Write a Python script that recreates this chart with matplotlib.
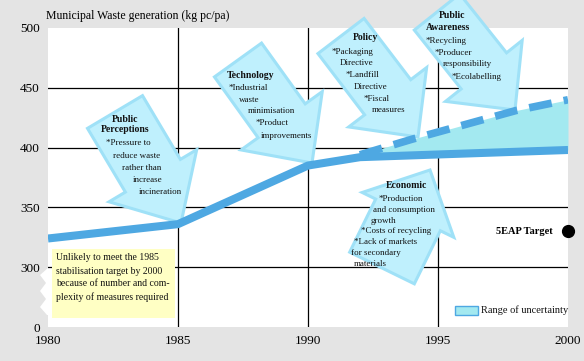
import matplotlib
matplotlib.use("Agg")
import matplotlib.pyplot as plt
import numpy as np
from matplotlib.patches import Polygon, Rectangle

# data
years = [1980, 1985, 1990, 1992, 2000]
waste = [324, 336, 385, 392, 398]

band_years = [1992, 1994, 1996, 1998, 2000]
band_high = [394, 407, 419, 431, 440]
band_low = [392, 393.5, 395, 396.5, 398]

target_year = 2000
target_value = 330

xticks = [1980, 1985, 1990, 1995, 2000]
yticks = [250, 300, 350, 400, 450, 500]
ytick_labels = ["0", "300", "350", "400", "450", "500"]
hgrid = [300, 350, 400, 450]
vgrid = [1985, 1990, 1995]

W, H = 584, 361
LINE = "#4ea8e2"
BAND = "#a3e9f0"
ARROW_FILL = "#bff0fd"
ARROW_EDGE = "#9fe1f7"
SERIF = "Liberation Serif"

# callout arrows: tail, tip (pixels, y down), body width, head width, head length
arrows = [
    ((115, 112), (181, 223), 64, 102, 55),
    ((238, 60), (312, 163), 58, 100, 52),
    ((341, 36), (418, 137), 58, 98, 50),
    ((437, 12), (515, 110), 58, 98, 50),
    ((382, 268), (430, 170), 72, 102, 50),
]

# arrow texts: (text, x, y, align, bold)
arrow_texts = [
    ("Public", 125, 120, "center", True),
    ("Perceptions", 125, 130, "center", True),
    ("*Pressure to", 106, 143, "left", False),
    ("reduce waste", 113, 156, "left", False),
    ("rather than", 122, 168, "left", False),
    ("increase", 133, 180, "left", False),
    ("incineration", 139, 192, "left", False),
    ("Technology", 227, 76, "left", True),
    ("*Industrial", 229, 88, "left", False),
    ("waste", 239, 100, "left", False),
    ("minimisation", 248, 111, "left", False),
    ("*Product", 256, 123, "left", False),
    ("improvements", 261, 136, "left", False),
    ("Policy", 365, 37, "center", True),
    ("*Packaging", 332, 52, "left", False),
    ("Directive", 340, 63, "left", False),
    ("*Landfill", 346, 75, "left", False),
    ("Directive", 354, 87, "left", False),
    ("*Fiscal", 364, 99, "left", False),
    ("measures", 372, 110, "left", False),
    ("Public", 452, 16, "center", True),
    ("Awareness", 448, 27, "center", True),
    ("*Recycling", 426, 41, "left", False),
    ("*Producer", 435, 53, "left", False),
    ("responsibility", 443, 64, "left", False),
    ("*Ecolabelling", 452, 77, "left", False),
    ("Economic", 407, 186, "center", True),
    ("*Production", 379, 199, "left", False),
    ("and consumption", 373, 210, "left", False),
    ("growth", 371, 221, "left", False),
    ("*Costs of recycling", 361, 231, "left", False),
    ("*Lack of markets", 354, 242, "left", False),
    ("for secondary", 351, 253, "left", False),
    ("materials", 354, 264, "left", False),
]

note_lines = [
    "Unlikely to meet the 1985",
    "stabilisation target by 2000",
    "because of number and com-",
    "plexity of measures required",
]


def fig_xy(x, y):
    return (x / W, 1 - y / H)


def arrow_poly(tail, tip, w, hw, hl):
    t = np.array(tail, float)
    h = np.array(tip, float)
    d = (h - t) / np.linalg.norm(h - t)
    n = np.array([-d[1], d[0]])
    neck = h - d * hl
    pts = [t + n * w / 2, neck + n * w / 2, neck + n * hw / 2, h,
           neck - n * hw / 2, neck - n * w / 2, t - n * w / 2]
    return [fig_xy(*p) for p in pts]


fig = plt.figure(figsize=(W / 100, H / 100), dpi=100, facecolor="#e4e4e4")
ax = fig.add_axes([48 / W, 1 - 327 / H, 520 / W, 299 / H])
ax.set_facecolor("white")
for s in ax.spines.values():
    s.set_visible(False)

for yv in hgrid:
    ax.axhline(yv, color="black", lw=0.9, zorder=1)
for xv in vgrid:
    ax.axvline(xv, color="black", lw=0.9, zorder=1)

for tail, tip, w, hw, hl in arrows:
    ax.add_patch(Polygon(arrow_poly(tail, tip, w, hw, hl), closed=True,
                         transform=fig.transFigure, facecolor=ARROW_FILL,
                         edgecolor=ARROW_EDGE, lw=2.2, joinstyle="miter",
                         zorder=2, clip_on=False))

for txt, x, y, ha, bold in arrow_texts:
    fig.text(*fig_xy(x, y), txt, ha=ha, va="center", family=SERIF,
             fontsize=7 if bold else 6.5,
             fontweight="bold" if bold else "normal", color="#111111",
             zorder=6)

ax.fill_between(band_years, band_low, band_high, color=BAND, lw=0, zorder=3)
ax.plot(band_years, band_high, color=LINE, lw=5.5, dashes=(3, 1.6),
        solid_capstyle="butt", dash_capstyle="butt", zorder=4)
ax.plot(years, waste, color=LINE, lw=5.8, solid_joinstyle="round",
        solid_capstyle="butt", zorder=5)

ax.plot([target_year], [target_value], "o", color="black", ms=8.5,
        clip_on=False, zorder=6)
ax.text(1999.4, target_value, "5EAP Target", ha="right", va="center",
        family=SERIF, fontsize=7.5, fontweight="bold")

# note box
ax.add_patch(Rectangle(fig_xy(52, 318), 123 / W, 69 / H,
                       transform=fig.transFigure, facecolor="#ffffc4",
                       edgecolor="none", zorder=3, clip_on=False))
for i, line in enumerate(note_lines):
    fig.text(*fig_xy(56, 258 + 13 * i), line, ha="left", va="center",
             family=SERIF, fontsize=7, color="#111111", zorder=6)

# legend
ax.add_patch(Rectangle(fig_xy(455, 315), 23 / W, 9 / H,
                       transform=fig.transFigure, facecolor=BAND,
                       edgecolor=LINE, lw=1, zorder=3, clip_on=False))
fig.text(*fig_xy(481, 310), "Range of uncertainty", ha="left", va="center",
         family=SERIF, fontsize=7.5, color="#111111")

# broken axis zigzag
zig = [(48, 268), (40, 275), (46, 283), (40, 291), (46, 299), (40, 307),
       (47, 315), (48, 315)]
fig.add_artist(Polygon([fig_xy(*p) for p in zig], closed=True,
                       transform=fig.transFigure, facecolor="white",
                       edgecolor="none"))

ax.set_xlim(1980, 2000)
ax.set_ylim(250, 500)
ax.set_xticks(xticks)
ax.set_yticks(yticks)
ax.set_yticklabels(ytick_labels)
ax.tick_params(length=0, labelsize=9.5, pad=6)
for lab in ax.get_xticklabels() + ax.get_yticklabels():
    lab.set_family(SERIF)

fig.text(*fig_xy(46, 19), "Municipal Waste generation (kg pc/pa)",
         ha="left", va="baseline", family=SERIF, fontsize=8.5)

fig.savefig("out.png", dpi=100, facecolor=fig.get_facecolor())
